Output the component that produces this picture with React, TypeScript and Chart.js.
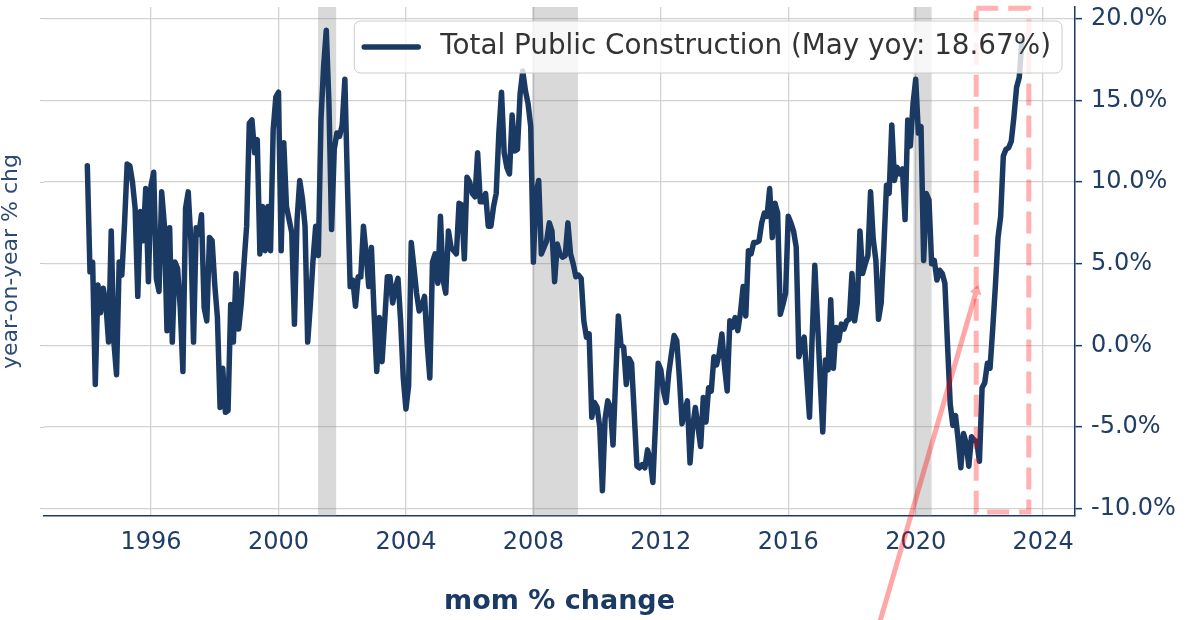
import React, { useEffect, useRef } from 'react';
import { Chart, registerables } from 'chart.js';

Chart.register(...registerables);

// ---- data (monthly year-on-year % change, Jan 1994 .. May 2023) ----
const START_YEAR = 1994;

const yoy1994to1998 = [
  11.0, 4.5, 5.1, -2.4, 3.7, 2.0, 3.5, 2.5, 0.2, 7.0, 0.2, -1.8,
  5.1, 4.3, 7.4, 11.1, 11.0, 10.0, 8.4, 3.0, 8.2, 6.4, 9.6, 3.9,
  9.8, 10.6, 4.1, 3.3, 9.4, 7.4, 0.9, 7.2, 0.2, 5.1, 4.7, 2.3,
  -1.6, 8.4, 9.4, 6.4, 0.2, 7.2, 6.8, 8.0, 2.3, 1.5, 6.6, 6.4,
  3.7, 1.7, -3.8, -1.4, -4.1, -4.0, 2.5, 0.2, 4.4, 1.0, 2.6, 5.0,
];
const yoy1999to2003 = [
  7.3, 13.6, 13.8, 11.8, 12.6, 5.6, 8.5, 5.8, 8.5, 5.8, 13.2, 15.2,
  15.5, 5.8, 12.4, 8.5, 7.7, 6.9, 1.3, 7.7, 10.1, 9.0, 7.3, 0.2,
  2.5, 5.2, 7.3, 5.5, 13.8, 17.1, 19.3, 14.8, 7.1, 12.0, 13.0, 12.8,
  13.5, 16.3, 9.7, 3.6, 4.0, 2.4, 4.2, 4.2, 7.3, 5.6, 3.6, 6.0,
  2.0, -1.6, 1.7, -1.0, 1.5, 4.2, 4.2, 2.6, 3.5, 4.1, 1.5, -2.0,
];
const yoy2004to2008 = [
  -3.9, -2.5, 6.3, 4.8, 3.2, 2.1, 2.4, 3.0, 0.1, -2.0, 5.1, 5.6,
  3.8, 7.9, 4.0, 3.2, 7.0, 6.0, 5.8, 5.6, 8.7, 8.6, 5.3, 10.3,
  10.0, 9.3, 9.1, 11.8, 8.8, 8.8, 9.3, 7.3, 7.3, 8.5, 9.3, 13.0,
  15.5, 11.8, 10.9, 10.5, 14.1, 11.9, 12.0, 15.4, 16.8, 15.6, 14.8, 13.4,
  5.1, 9.3, 10.1, 5.6, 6.0, 6.4, 7.5, 7.0, 3.9, 6.2, 5.6, 5.4,
];
const yoy2009to2013 = [
  5.5, 7.5, 5.6, 5.0, 4.2, 4.3, 4.1, 1.5, 0.5, 0.7, -4.4, -3.5,
  -3.8, -5.0, -8.9, -4.5, -3.4, -3.8, -6.1, -2.0, 1.8, 0.0, -0.1, -2.4,
  -0.8, -1.1, -4.2, -7.4, -7.5, -7.3, -7.5, -6.4, -7.0, -8.4, -4.8, -1.1,
  -1.5, -2.8, -3.5, -1.7, -0.5, 0.6, 0.3, -2.0, -4.8, -4.0, -3.4, -7.2,
  -5.0, -3.8, -5.0, -6.2, -3.2, -4.7, -2.6, -2.8, -0.7, -1.2, -0.5, 0.7,
];
const yoy2014to2018 = [
  -1.3, -2.8, 1.5, 1.1, 1.7, 0.9, 2.0, 3.6, 1.8, 5.8, 5.6, 6.3,
  6.3, 6.4, 7.5, 8.1, 7.9, 9.6, 6.6, 8.7, 8.1, 1.9, 2.5, 3.2,
  7.9, 7.5, 7.0, 6.0, -0.7, 0.0, 0.5, -2.0, -4.4, 0.5, 4.9, 1.5,
  -2.0, -5.3, -0.9, -1.5, 2.8, -1.4, 1.1, 0.3, 1.3, 1.0, 1.5, 1.6,
  4.4, 1.5, 2.6, 7.0, 4.4, 5.0, 5.5, 9.4, 6.5, 5.2, 1.6, 2.6,
];
const yoy2019to2023 = [
  6.0, 9.8, 9.3, 13.5, 10.1, 10.9, 10.5, 10.8, 7.7, 13.8, 12.2, 14.8,
  16.3, 13.0, 13.4, 5.2, 9.3, 8.9, 5.0, 5.2, 4.0, 4.6, 4.4, 3.8,
  0.0, -3.6, -4.9, -4.3, -5.8, -7.5, -5.4, -6.0, -7.4, -5.6, -5.8, -5.9,
  -7.1, -2.6, -2.3, -1.1, -1.4, 1.0, 3.6, 6.6, 7.9, 11.6, 12.0, 12.1,
  12.5, 14.0, 15.8, 16.4, 18.67,
];

const seriesLabel = 'Total Public Construction (May yoy: 18.67%)';
const xTickYears = [1996, 2000, 2004, 2008, 2012, 2016, 2020, 2024];
const yTickValues = [-10, -5, 0, 5, 10, 15, 20];
const recessionSpans = [
  [2001.24, 2001.81],
  [2007.96, 2009.4],
  [2019.93, 2020.5],
];
const highlightSpanX = [2021.9, 2023.55];
const highlightSpanY = [-10.2, 20.65];
const arrowStart = [2018.88, -16.9];
const arrowEnd = [2021.96, 3.7];

const X_MIN = 1992.64;
const X_MAX = 2025.0;
const Y_MIN = -10.45;
const Y_MAX = 20.72;

// ---- styles ----
const NAVY = '#1b3a63';
const AXIS_TEXT = '#1f3d66';
const GRID = '#d2d2d2';
const FONT = '"DejaVu Sans", "Liberation Sans", sans-serif';

const allValues = [
  ...yoy1994to1998,
  ...yoy1999to2003,
  ...yoy2004to2008,
  ...yoy2009to2013,
  ...yoy2014to2018,
  ...yoy2019to2023,
];

const overlayPlugin = {
  id: 'overlayPlugin',
  beforeDatasetsDraw(chart: any) {
    const { ctx, chartArea: a, scales } = chart;
    const x = scales.x;
    ctx.save();
    ctx.fillStyle = 'rgba(128,128,128,0.3)';
    for (const [s, e] of recessionSpans) {
      const p0 = x.getPixelForValue(s);
      const p1 = x.getPixelForValue(e);
      ctx.fillRect(p0, a.top, p1 - p0, a.bottom - a.top);
    }
    ctx.restore();
  },
  afterDatasetsDraw(chart: any) {
    const { ctx, scales } = chart;
    const x = scales.x;
    const y = scales.y;
    ctx.save();
    // dashed highlight box
    const bx0 = x.getPixelForValue(highlightSpanX[0]);
    const bx1 = x.getPixelForValue(highlightSpanX[1]);
    const by0 = y.getPixelForValue(highlightSpanY[1]);
    const by1 = y.getPixelForValue(highlightSpanY[0]);
    ctx.strokeStyle = 'rgba(255,0,0,0.3)';
    ctx.lineWidth = 5;
    ctx.setLineDash([22, 10]);
    ctx.strokeRect(bx0, by0, bx1 - bx0, by1 - by0);
    // arrow
    ctx.setLineDash([]);
    const ax0 = x.getPixelForValue(arrowStart[0]);
    const ay0 = y.getPixelForValue(arrowStart[1]);
    const ax1 = x.getPixelForValue(arrowEnd[0]);
    const ay1 = y.getPixelForValue(arrowEnd[1]);
    const ang = Math.atan2(ay1 - ay0, ax1 - ax0);
    const head = 9;
    const bx = ax1 - Math.cos(ang) * head;
    const byy = ay1 - Math.sin(ang) * head;
    ctx.strokeStyle = 'rgba(255,0,0,0.35)';
    ctx.lineWidth = 5;
    ctx.beginPath();
    ctx.moveTo(ax0, ay0);
    ctx.lineTo(bx, byy);
    ctx.stroke();
    ctx.fillStyle = 'rgba(255,0,0,0.35)';
    ctx.beginPath();
    ctx.moveTo(ax1, ay1);
    ctx.lineTo(bx + Math.cos(ang + Math.PI / 2) * 6, byy + Math.sin(ang + Math.PI / 2) * 6);
    ctx.lineTo(bx + Math.cos(ang - Math.PI / 2) * 6, byy + Math.sin(ang - Math.PI / 2) * 6);
    ctx.closePath();
    ctx.fill();
    ctx.restore();
  },
  afterDraw(chart: any) {
    const { ctx, chartArea: a } = chart;
    ctx.save();
    ctx.font = '27.8px ' + FONT;
    const tw = ctx.measureText(seriesLabel).width;
    const padL = 8;
    const sample = 56;
    const gap = 22;
    const padR = 11;
    const boxH = 52;
    const boxRight = a.right - 13;
    const boxTop = a.top + 14;
    const boxW = padL + sample + gap + tw + padR;
    const boxLeft = boxRight - boxW;
    ctx.beginPath();
    if ((ctx as any).roundRect) {
      (ctx as any).roundRect(boxLeft, boxTop, boxW, boxH, 6);
    } else {
      ctx.rect(boxLeft, boxTop, boxW, boxH);
    }
    ctx.fillStyle = 'rgba(255,255,255,0.8)';
    ctx.fill();
    ctx.strokeStyle = '#cccccc';
    ctx.lineWidth = 1;
    ctx.stroke();
    const cy = boxTop + boxH / 2;
    ctx.strokeStyle = NAVY;
    ctx.lineWidth = 5.5;
    ctx.lineCap = 'round';
    ctx.beginPath();
    ctx.moveTo(boxLeft + padL + 2, cy);
    ctx.lineTo(boxLeft + padL + sample, cy);
    ctx.stroke();
    ctx.fillStyle = '#333333';
    ctx.textBaseline = 'middle';
    ctx.textAlign = 'left';
    ctx.fillText(seriesLabel, boxLeft + padL + sample + gap, cy);
    ctx.restore();
  },
};

export default function App() {
  const canvasRef = useRef<HTMLCanvasElement>(null);

  useEffect(() => {
    const canvas = canvasRef.current;
    if (!canvas) return;
    const points = allValues.map((v, i) => ({ x: START_YEAR + i / 12, y: v }));
    const chart = new Chart(canvas, {
      type: 'line',
      data: {
        datasets: [
          {
            label: seriesLabel,
            data: points,
            borderColor: NAVY,
            backgroundColor: NAVY,
            borderWidth: 5.5,
            pointRadius: 0,
            tension: 0,
            borderJoinStyle: 'round',
            borderCapStyle: 'round',
            yAxisID: 'y',
          },
        ],
      },
      options: {
        responsive: false,
        maintainAspectRatio: false,
        animation: false,
        devicePixelRatio: 1,
        layout: { padding: { top: 7, left: 0, right: 0, bottom: 0 } },
        plugins: {
          legend: { display: false },
          tooltip: { enabled: false },
        },
        scales: {
          x: {
            type: 'linear',
            min: X_MIN,
            max: X_MAX,
            afterBuildTicks: (axis: any) => {
              axis.ticks = xTickYears.map((v) => ({ value: v }));
            },
            afterFit: (scale: any) => {
              scale.height = 104;
              scale.paddingLeft = 0;
              scale.paddingRight = 0;
            },
            ticks: {
              autoSkip: false,
              maxRotation: 0,
              padding: 12,
              color: AXIS_TEXT,
              font: { family: FONT, size: 24 },
              callback: (v: any) => String(v),
            },
            grid: { color: GRID, lineWidth: 1.3, drawTicks: false },
            border: { display: true, color: NAVY, width: 1.5 },
            title: {
              display: true,
              text: 'mom % change',
              color: NAVY,
              font: { family: FONT, size: 27, weight: 'bold', lineHeight: 1.2 },
              padding: { top: 0, bottom: 2 },
            },
          },
          y: {
            type: 'linear',
            position: 'right',
            min: Y_MIN,
            max: Y_MAX,
            afterBuildTicks: (axis: any) => {
              axis.ticks = yTickValues.map((v) => ({ value: v }));
            },
            afterFit: (scale: any) => {
              scale.width = 112;
              scale.paddingTop = 0;
              scale.paddingBottom = 0;
            },
            ticks: {
              padding: 9,
              color: AXIS_TEXT,
              font: { family: FONT, size: 24 },
              callback: (v: any) => Number(v).toFixed(1) + '%',
            },
            grid: {
              color: GRID,
              lineWidth: 1.3,
              drawTicks: true,
              tickLength: 7,
              tickColor: NAVY,
              tickWidth: 1.5,
            },
            border: { display: true, color: NAVY, width: 1.5 },
          },
          yl: {
            type: 'linear',
            position: 'left',
            min: Y_MIN,
            max: Y_MAX,
            afterBuildTicks: (axis: any) => {
              axis.ticks = yTickValues.map((v) => ({ value: v }));
            },
            afterFit: (scale: any) => {
              scale.width = 44;
              scale.paddingTop = 0;
              scale.paddingBottom = 0;
            },
            ticks: { display: false },
            grid: {
              drawOnChartArea: false,
              drawTicks: true,
              tickLength: 4,
              tickColor: '#c8c8c8',
            },
            border: { display: false },
            title: {
              display: true,
              text: 'year-on-year % chg',
              color: '#2d4a72',
              font: { family: FONT, size: 22, lineHeight: 1 },
              padding: { top: 0, bottom: 0 },
            },
          },
        },
      } as any,
      plugins: [overlayPlugin],
    });
    return () => chart.destroy();
  }, []);

  return (
    <div
      style={{
        position: 'fixed',
        left: 0,
        top: 0,
        width: 1187,
        height: 620,
        background: '#ffffff',
      }}
    >
      <canvas
        ref={canvasRef}
        width={1187}
        height={620}
        style={{ display: 'block', width: 1187, height: 620 }}
      />
    </div>
  );
}
